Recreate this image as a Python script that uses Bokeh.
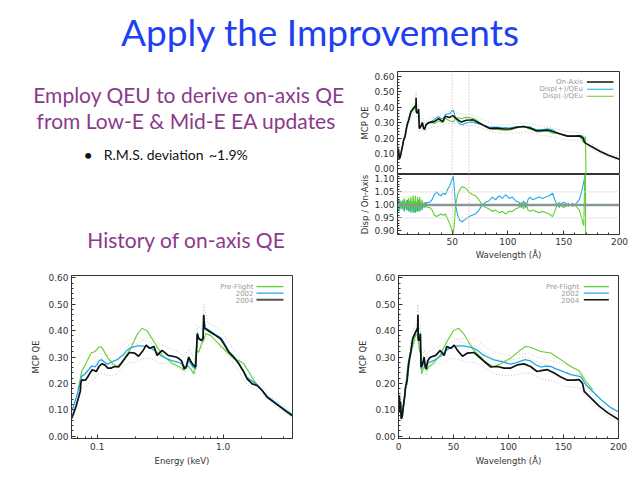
import numpy as np
from bokeh.plotting import figure
from bokeh.layouts import column, row
from bokeh.models import (Range1d, LinearAxis, LogAxis, FixedTicker, PrintfTickFormatter,
                          Label, Span, Arrow)
from bokeh.embed import file_html
from bokeh.resources import INLINE

HC = 12.398  # keV * Angstrom

# ---------------- data ----------------
# 2004 on-axis QE (black)
wl_2004 = [0.3, 0.8, 1.3, 1.8, 2.5, 3.0, 3.51, 3.85, 4.35, 4.92, 5.56, 6.08, 6.67, 7.30, 8.00, 8.50,
           9.32, 10.21, 11.17, 12.25, 13.02, 14.27, 15.63, 17.12, 17.5, 17.69, 17.9, 18.45, 19.37, 19.9,
           20.5, 21.5, 22.5, 23.3, 24.3, 25.3, 26.5, 28.0, 29.4, 33.9, 37.9, 41.5, 43.9, 47.6, 50.6, 53.6,
           58.2, 62.7, 68.8, 73.3, 77.9, 84.0, 90.0, 96.0, 102.0, 108.0, 114.0, 120.0, 126.0, 131.0,
           135.5, 141.5, 147.6, 153.6, 159.7, 164.2, 167.3, 168.8, 174.8, 182.4, 190.0, 200.0]
qe_2004 = [0.10, 0.155, 0.09, 0.13, 0.065, 0.07, 0.078, 0.091, 0.11, 0.129, 0.148, 0.173, 0.192, 0.198,
           0.217, 0.243, 0.274, 0.299, 0.318, 0.35, 0.369, 0.382, 0.394, 0.407, 0.41, 0.46, 0.37, 0.362,
           0.369, 0.388, 0.262, 0.27, 0.285, 0.30, 0.265, 0.255, 0.285, 0.295, 0.30, 0.306, 0.325, 0.306,
           0.34, 0.333, 0.345, 0.325, 0.303, 0.315, 0.317, 0.30, 0.283, 0.262, 0.264, 0.258, 0.258, 0.27,
           0.274, 0.264, 0.245, 0.249, 0.252, 0.239, 0.224, 0.212, 0.212, 0.214, 0.20, 0.17, 0.145,
           0.114, 0.089, 0.063]

# 2002 QE (cyan)
wl_2002 = [0.3, 0.8, 1.3, 1.8, 2.5, 3.0, 3.51, 4.35, 5.56, 6.67, 8.0, 9.32, 10.21, 11.17, 12.25, 13.02,
           14.27, 15.63, 17.12, 17.69, 17.9, 18.45, 19.37, 19.9, 20.5, 21.5, 22.5, 23.3, 24.3, 25.7, 28.0,
           31.8, 37.9, 43.9, 50.0, 55.0, 59.0, 64.0, 68.0, 72.0, 77.0, 82.0, 86.0, 95.4, 102.0, 108.0,
           115.0, 120.0, 125.0, 129.4, 134.0, 138.4, 143.0, 147.5, 156.6, 165.7, 170.3, 183.9, 193.0, 200.0]
qe_2002 = [0.10, 0.15, 0.095, 0.13, 0.07, 0.075, 0.082, 0.113, 0.152, 0.195, 0.222, 0.278, 0.302, 0.322,
           0.356, 0.374, 0.385, 0.398, 0.41, 0.455, 0.375, 0.365, 0.372, 0.392, 0.255, 0.262, 0.275, 0.29,
           0.255, 0.27, 0.28, 0.286, 0.302, 0.327, 0.34, 0.342, 0.342, 0.338, 0.334, 0.325, 0.308, 0.298,
           0.29, 0.281, 0.273, 0.28, 0.29, 0.285, 0.27, 0.262, 0.265, 0.264, 0.255, 0.248, 0.233, 0.226,
           0.195, 0.139, 0.108, 0.092]

# Pre-flight QE (green)
wl_pre = [0.3, 0.8, 1.3, 1.8, 2.5, 3.0, 3.51, 4.35, 4.92, 5.56, 6.26, 7.08, 7.75, 8.50, 9.32, 10.21,
          11.51, 13.02, 14.27, 15.63, 17.12, 17.69, 18.45, 19.37, 20.3, 21.2, 22.5, 23.9, 25.5, 27.07,
          31.8, 37.9, 43.9, 50.0, 54.5, 59.0, 63.6, 68.2, 74.2, 80.3, 86.3, 92.0, 102.0, 111.0, 115.5,
          120.0, 129.4, 138.4, 147.5, 156.6, 164.0, 170.0, 176.5]
qe_pre = [0.10, 0.15, 0.09, 0.13, 0.068, 0.072, 0.078, 0.11, 0.129, 0.148, 0.18, 0.211, 0.243, 0.274,
          0.287, 0.293, 0.318, 0.343, 0.362, 0.382, 0.388, 0.362, 0.35, 0.318, 0.325, 0.236, 0.255, 0.268,
          0.249, 0.261, 0.277, 0.308, 0.358, 0.40, 0.409, 0.39, 0.358, 0.327, 0.302, 0.277, 0.264, 0.272,
          0.296, 0.327, 0.34, 0.337, 0.321, 0.315, 0.29, 0.264, 0.248, 0.21, 0.176]

# faint dotted uncertainty envelopes of the on-axis QE
wl_env = [3.5, 5.0, 6.5, 8.0, 10.0, 12.4, 14.3, 16.5, 17.7, 18.3, 19.9, 20.5, 23.3, 25.5, 28.0, 34.0,
          40.0, 44.0, 50.0, 55.0, 62.0, 68.0, 74.0, 80.0, 88.0, 96.0, 104.0, 114.0, 122.0, 130.0, 140.0,
          150.0, 160.0, 166.0, 170.0, 180.0, 190.0, 200.0]
env_hi = [0.09, 0.145, 0.21, 0.25, 0.32, 0.39, 0.415, 0.43, 0.50, 0.40, 0.42, 0.29, 0.33, 0.30, 0.32,
          0.335, 0.35, 0.37, 0.375, 0.36, 0.35, 0.35, 0.33, 0.31, 0.29, 0.285, 0.29, 0.30, 0.29, 0.275,
          0.265, 0.245, 0.235, 0.235, 0.19, 0.135, 0.10, 0.075]
env_lo = [0.07, 0.12, 0.17, 0.195, 0.27, 0.33, 0.35, 0.37, 0.42, 0.33, 0.36, 0.235, 0.27, 0.23, 0.26,
          0.275, 0.275, 0.29, 0.295, 0.29, 0.28, 0.28, 0.27, 0.255, 0.235, 0.23, 0.23, 0.24, 0.235, 0.215,
          0.21, 0.19, 0.185, 0.18, 0.15, 0.11, 0.075, 0.055]
# faint pink dotted envelope of the 2002 QE
wl_pink = [40, 45, 50, 55, 60, 65, 70, 75, 80, 90, 100, 110, 118, 125, 135, 145, 155, 165, 170]
qe_pink = [0.33, 0.35, 0.36, 0.37, 0.37, 0.37, 0.365, 0.35, 0.335, 0.315, 0.305, 0.31, 0.315, 0.30,
           0.29, 0.28, 0.265, 0.25, 0.22]

# dispersed / on-axis ratios
wl_ratio = [1, 2, 3, 4, 5, 6, 7, 8, 9, 10, 11, 12, 13, 14, 15, 16, 17, 18, 19, 20, 21, 22, 23, 24, 25,
            26, 27, 28, 30, 32, 34, 36, 38, 40, 42, 44, 46, 48, 50, 51, 52, 53, 55, 57, 59, 62, 65, 68,
            71, 74, 77, 80, 83, 86, 89, 92, 95, 98, 101, 104, 107, 110, 112, 114, 116, 118, 120, 122,
            125, 128, 131, 134, 137, 140, 142, 144, 146, 148, 150, 152, 154, 156, 158, 160, 162, 164,
            166, 168, 169.5, 170]
ratio_plus = [1.00, 1.02, 0.98, 1.015, 0.985, 1.02, 0.975, 1.01, 0.98, 1.02, 0.975, 1.015, 0.97, 1.01,
              0.97, 1.015, 0.97, 1.01, 0.975, 1.02, 0.975, 1.01, 0.98, 1.005, 0.99, 1.01, 1.005, 1.01,
              1.01, 1.02, 1.04, 1.05, 1.04, 1.035, 1.045, 1.04, 1.06, 1.075,
              1.10, 1.11, 1.06, 1.00, 0.96, 0.94, 0.935,
              0.945, 0.955, 0.96, 0.965, 0.98, 1.00, 1.01, 1.015, 1.03, 1.02, 1.035, 1.025, 1.04, 1.025,
              1.03, 1.015, 1.01,
              0.99, 1.015, 0.99, 1.02, 1.03, 1.02,
              1.025, 1.03, 1.025, 1.03, 1.035, 1.045,
              1.02, 1.00, 0.99, 1.005, 1.01, 1.005, 0.995, 1.00, 1.005, 1.00, 1.01, 1.02, 1.05, 1.09,
              1.12, 1.13]
ratio_minus = [1.00, 0.98, 1.02, 0.985, 1.015, 0.98, 1.025, 0.99, 1.02, 0.98, 1.025, 0.975, 1.03, 0.975,
               1.035, 0.97, 1.035, 0.975, 1.03, 0.975, 1.03, 0.98, 1.02, 0.99, 1.01, 0.99, 0.995, 0.99,
               0.99, 0.98, 0.96, 0.955, 0.96, 0.965, 0.96, 0.965, 0.945, 0.925,
               0.90, 0.89, 0.93, 1.00, 1.04, 1.06, 1.07,
               1.065, 1.05, 1.04, 1.035, 1.02, 1.00, 0.99, 0.985, 0.975, 0.98, 0.97, 0.975, 0.965, 0.975,
               0.975, 0.985, 0.99,
               1.01, 0.985, 1.01, 0.98, 0.975, 0.98,
               0.975, 0.97, 0.975, 0.97, 0.965, 0.955,
               0.975, 1.00, 1.01, 0.995, 0.99, 0.995, 1.005, 1.00, 0.995, 1.00, 0.99, 0.98, 0.95, 0.92,
               1.25, -0.3]

qe_ticks = [0.0, 0.1, 0.2, 0.3, 0.4, 0.5, 0.6]
ratio_ticks = [0.90, 0.95, 1.00, 1.05, 1.10]
wl_ticks = [0, 50, 100, 150, 200]
e_ticks = [0.1, 1.0]

legend_hist = ["Pre-Flight", "2002", "2004"]
legend_disp = ["On-Axis", "Disp(+)/QEu", "Disp(-)/QEu"]

# ---------------- derived ----------------
e_2004 = [HC / w for w in wl_2004]
e_2002 = [HC / w for w in wl_2002]
e_pre = [HC / w for w in wl_pre]
e_env = [HC / w for w in wl_env]
e_pink = [HC / w for w in wl_pink]
onaxis_at_ratio = np.interp(wl_ratio, wl_2004, qe_2004)
disp_plus = list(onaxis_at_ratio * np.array(ratio_plus))
disp_minus = list(onaxis_at_ratio * np.array(ratio_minus))

# ---------------- style ----------------
BLACK = "#111111"
CYAN = "#1fa8e6"
GREEN = "#5fcf30"
GRAY = "#b8b8b8"
PINK = "#f2b8b0"
AX = "#333333"
FONT = "DejaVu Sans"
LEG_TXT = "#9a9a9a"
PURPLE = "#8b3a8b"
BLUE = "#1e40f2"


def mk_axis(cls, ticks, minor, fmt, label, standoff=3, lab_standoff=2):
    ax = cls(ticker=FixedTicker(ticks=ticks, minor_ticks=minor))
    ax.formatter = PrintfTickFormatter(format=fmt)
    ax.axis_line_color = AX
    ax.major_tick_line_color = AX
    ax.minor_tick_line_color = AX
    ax.major_tick_in = 4
    ax.major_tick_out = 0
    ax.minor_tick_in = 2
    ax.minor_tick_out = 0
    ax.major_label_text_font = FONT
    ax.major_label_text_font_size = "9px"
    ax.major_label_text_color = AX
    ax.major_label_standoff = standoff
    if label:
        ax.axis_label = label
        ax.axis_label_text_font = FONT
        ax.axis_label_text_font_size = "8.5px"
        ax.axis_label_text_font_style = "normal"
        ax.axis_label_text_color = AX
        ax.axis_label_standoff = lab_standoff
    return ax


def base_fig(w, h, xr, yr, borders, xlog=False):
    p = figure(width=w, height=h, x_range=xr, y_range=yr,
               x_axis_type="log" if xlog else "linear",
               x_axis_location=None, y_axis_location=None,
               toolbar_location=None, output_backend="svg",
               min_border_left=borders[0], min_border_right=borders[1],
               min_border_top=borders[2], min_border_bottom=borders[3])
    p.grid.visible = False
    p.outline_line_color = AX
    p.outline_line_width = 1
    p.background_fill_color = "white"
    p.border_fill_color = "white"
    return p


def add_legend(p, names, colors, widths, x_text, x0, x1, ys):
    for n, c, lw, y in zip(names, colors, widths, ys):
        p.add_layout(Label(x=x_text, y=y, text=n, text_font=FONT, text_font_size="7px",
                           text_color=LEG_TXT, text_align="right", text_baseline="middle"))
        p.add_layout(Arrow(end=None, x_start=x0, y_start=y, x_end=x1, y_end=y,
                           line_color=c, line_width=lw))


def canvas(w, h):
    c = figure(width=w, height=h, x_range=Range1d(0, w), y_range=Range1d(h, 0),
               x_axis_location=None, y_axis_location=None, toolbar_location=None,
               output_backend="svg", min_border=0, outline_line_color=None)
    c.grid.visible = False
    return c


def slide_text(c, x, y, txt, size, color, align="center"):
    c.add_layout(Label(x=x, y=y, text=txt, text_font="Lato", text_font_size=f"{size}px",
                       text_color=color, text_align=align, text_baseline="middle"))


qe_minor = [round(0.02 * i, 2) for i in range(0, 31) if i % 5]
wl_minor = [10 * i for i in range(0, 21) if i % 5]
e_minor = [0.07, 0.08, 0.09, 0.2, 0.3, 0.4, 0.5, 0.6, 0.7, 0.8, 0.9, 2.0, 3.0]
r_minor = [round(0.88 + 0.01 * i, 2) for i in range(0, 25)]
r_minor = [v for v in r_minor if round(v * 100) % 5]

# ---------------- title canvas (slide y 0..60) ----------------
title_fig = canvas(632, 60)
slide_text(title_fig, 320, 30.5, "Apply the Improvements", 37, BLUE)

# ---------------- text canvas (slide x 0..348, y 60..262) ----------------
text_fig = canvas(348, 202)
slide_text(text_fig, 188.5, 33.5, "Employ QEU to derive on-axis QE", 21, PURPLE)
slide_text(text_fig, 188.5, 59.5, "from Low-E & Mid-E  EA updates", 21, PURPLE)
slide_text(text_fig, 87.7, 93.5, "\u2022", 16, "#111111")
slide_text(text_fig, 103.3, 93.5, "R.M.S. deviation", 14, "#111111", "left")
slide_text(text_fig, 247.3, 93.5, "~1.9%", 14, "#111111", "right")
slide_text(text_fig, 186, 179.1, "History of on-axis QE", 21, PURPLE)

# ---------------- top right: QE with dispersed ----------------
top = base_fig(284, 114, Range1d(1, 200), Range1d(-0.036, 0.63), (49, 13, 11, 0))
top.add_layout(mk_axis(LinearAxis, qe_ticks, qe_minor, "%.2f", "MCP QE", 3, 1), "left")
for loc in (50, 65):
    top.add_layout(Span(location=loc, dimension="height", line_color="#e89a90",
                        line_dash="1 2", line_width=1))
top.line(wl_env, env_hi, line_color=GRAY, line_width=0.8, line_dash="1 2")
top.line(wl_env, env_lo, line_color=GRAY, line_width=0.8, line_dash="1 2")
top.line(wl_ratio, disp_plus, line_color=CYAN, line_width=1.1)
top.line(wl_ratio, disp_minus, line_color=GREEN, line_width=1.1)
top.line(wl_2004, qe_2004, line_color=BLACK, line_width=1.6)
add_legend(top, legend_disp, [BLACK, CYAN, GREEN], [1.6, 1.1, 1.1],
           167.2, 170.8, 194.6, [0.562, 0.515, 0.470])

# ---------------- top right: ratio panel ----------------
res = base_fig(284, 88, Range1d(1, 200), Range1d(0.886, 1.117), (49, 13, 0, 27))
res.add_layout(mk_axis(LinearAxis, ratio_ticks, r_minor, "%.2f", "Disp / On-Axis", 3, 1), "left")
res.add_layout(mk_axis(LinearAxis, wl_ticks, wl_minor, "%d", "Wavelength (\u00c5)", 3, 2), "below")
for loc in (0.95, 1.05):
    res.add_layout(Span(location=loc, dimension="width", line_color="#dddddd", line_width=0.8))
for loc in (50, 65):
    res.add_layout(Span(location=loc, dimension="height", line_color="#e89a90",
                        line_dash="1 2", line_width=1))
res.line(wl_ratio, ratio_plus, line_color=CYAN, line_width=1.1)
res.line(wl_ratio, ratio_minus, line_color=GREEN, line_width=1.1)
res.add_layout(Span(location=1.0, dimension="width", line_color="#8a9696", line_width=2.5))

# ---------------- bottom left: QE vs energy ----------------
bl = base_fig(316, 210, Range1d(0.0625, 3.55), Range1d(-0.009, 0.609), (71, 24, 13, 34), xlog=True)
bl.add_layout(mk_axis(LinearAxis, qe_ticks, qe_minor, "%.2f", "MCP QE", 3, 4), "left")
bl.add_layout(mk_axis(LogAxis, e_ticks, e_minor, "%.1f", "Energy (keV)", 4, 3), "below")
bl.line(e_env, env_hi, line_color=GRAY, line_width=0.8, line_dash="1 2")
bl.line(e_env, env_lo, line_color=GRAY, line_width=0.8, line_dash="1 2")
bl.line(e_pink, qe_pink, line_color=PINK, line_width=0.8, line_dash="1 2")
bl.line(e_pre, qe_pre, line_color=GREEN, line_width=1.1)
bl.line(e_2002, qe_2002, line_color=CYAN, line_width=1.3)
bl.line(e_2004, qe_2004, line_color=BLACK, line_width=1.7)
add_legend(bl, legend_hist, [GREEN, CYAN, "#555555"], [1.1, 1.3, 2.0],
           1.74, 1.837, 3.01, [0.567, 0.542, 0.517])

# ---------------- bottom right: QE vs wavelength ----------------
br = base_fig(316, 210, Range1d(0, 200), Range1d(-0.009, 0.609), (82, 14, 13, 34))
br.add_layout(mk_axis(LinearAxis, qe_ticks, qe_minor, "%.2f", "MCP QE", 3, 4), "left")
br.add_layout(mk_axis(LinearAxis, wl_ticks, wl_minor, "%d", "Wavelength (\u00c5)", 4, 3), "below")
br.line(wl_env, env_hi, line_color=GRAY, line_width=0.8, line_dash="1 2")
br.line(wl_env, env_lo, line_color=GRAY, line_width=0.8, line_dash="1 2")
br.line(wl_pink, qe_pink, line_color=PINK, line_width=0.8, line_dash="1 2")
br.line(wl_pre, qe_pre, line_color=GREEN, line_width=1.1)
br.line(wl_2002, qe_2002, line_color=CYAN, line_width=1.3)
br.line(wl_2004, qe_2004, line_color=BLACK, line_width=1.7)
add_legend(br, legend_hist, [GREEN, CYAN, BLACK], [1.1, 1.3, 1.7],
           164.2, 168.5, 191.2, [0.567, 0.542, 0.517])

layout = column(title_fig,
                row(text_fig, column(top, res, spacing=0), spacing=0),
                row(bl, br, spacing=0),
                spacing=0)

open("out.html", "w").write(file_html(layout, INLINE, title="Apply the Improvements"))
